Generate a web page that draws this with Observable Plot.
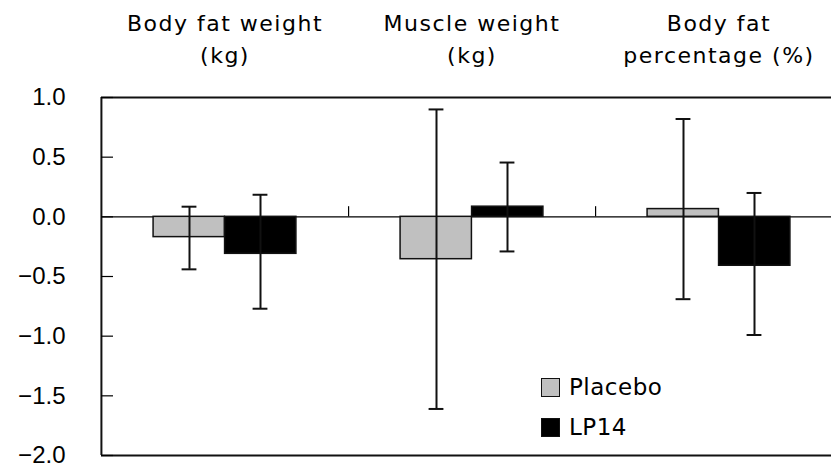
<!DOCTYPE html>
<html>
<head>
<meta charset="utf-8">
<script src="https://cdn.jsdelivr.net/npm/d3@7"></script>
<script src="https://cdn.jsdelivr.net/npm/@observablehq/plot@0.6"></script>
<style>
  body { margin: 0; background: #fff; }
  #wrap { position: relative; width: 831px; height: 472px; overflow: hidden; }
  #legend { position: absolute; left: 541px; top: 377px; font-family: "DejaVu Sans", sans-serif; font-size: 23px; color: #000; }
  .item { display: flex; align-items: center; height: 20px; margin-bottom: 20px; letter-spacing: 0.5px; }
  .sw { width: 19px; height: 19px; box-sizing: border-box; border: 1.5px solid #111; margin-right: 9px; }
  g[aria-label="x-axis tick label"] text { letter-spacing: 1.5px; }
</style>
</head>
<body>
<div id="wrap"><div id="chart"></div><div id="legend"></div></div>
<script>
const categories = ["Body fat weight\n(kg)", "Muscle weight\n(kg)", "Body fat\npercentage (%)"];
const seriesNames = ["Placebo", "LP14"];
const seriesColors = ["#c0c0c0", "#000000"];
const placeboMean = [-0.17, -0.355, 0.065];
const placeboLow  = [-0.44, -1.61, -0.69];
const placeboHigh = [0.085, 0.90, 0.82];
const lp14Mean = [-0.31, 0.085, -0.41];
const lp14Low  = [-0.77, -0.29, -0.99];
const lp14High = [0.185, 0.455, 0.20];
const yTicks = [1.0, 0.5, 0.0, -0.5, -1.0, -1.5, -2.0];

const rows = categories.map((c, i) => ({
  category: c,
  placebo: placeboMean[i], placeboLo: placeboLow[i], placeboHi: placeboHigh[i],
  lp14: lp14Mean[i], lp14Lo: lp14Low[i], lp14Hi: lp14High[i]
}));

const W = 831, H = 472, ML = 101, MR = 0, MT = 97, MB = 17;
const xRange = [ML, 842.5];
const bw = (xRange[1] - xRange[0]) / categories.length;
const half = bw / 2;
const barW = 71.5;
const errOff = 35.5;
const capW = 15;
const yMax = d3.max(yTicks), yMin = d3.min(yTicks);

const chart = Plot.plot({
  width: W, height: H,
  marginTop: MT, marginBottom: MB, marginLeft: ML, marginRight: MR,
  style: { fontFamily: "Liberation Sans, Arial, sans-serif", fontSize: "24px", color: "#000", background: "#fff", overflow: "hidden" },
  x: { type: "band", domain: categories, range: xRange, padding: 0 },
  y: { domain: [yMin, yMax] },
  marks: [
    Plot.ruleY([0], { stroke: "#000", strokeWidth: 1.2 }),
    Plot.ruleX(categories.slice(0, -1), { x: d => d, dx: half, y1: 0, y2: 0.085, stroke: "#000", strokeWidth: 1.2 }),
    Plot.barY(rows, { x: "category", y: "placebo", fill: seriesColors[0], stroke: "#111", strokeWidth: 1.5, insetLeft: half - barW, insetRight: half }),
    Plot.barY(rows, { x: "category", y: "lp14", fill: seriesColors[1], stroke: "#111", strokeWidth: 1.5, insetLeft: half, insetRight: half - barW }),
    Plot.ruleX(rows, { x: "category", y1: "placeboLo", y2: "placeboHi", dx: -errOff, stroke: "#111", strokeWidth: 2 }),
    Plot.ruleX(rows, { x: "category", y1: "lp14Lo", y2: "lp14Hi", dx: errOff, stroke: "#111", strokeWidth: 2 }),
    Plot.tickY(rows, { x: "category", y: "placeboLo", insetLeft: half - errOff - capW / 2, insetRight: half + errOff - capW / 2, stroke: "#111", strokeWidth: 2 }),
    Plot.tickY(rows, { x: "category", y: "placeboHi", insetLeft: half - errOff - capW / 2, insetRight: half + errOff - capW / 2, stroke: "#111", strokeWidth: 2 }),
    Plot.tickY(rows, { x: "category", y: "lp14Lo", insetLeft: half + errOff - capW / 2, insetRight: half - errOff - capW / 2, stroke: "#111", strokeWidth: 2 }),
    Plot.tickY(rows, { x: "category", y: "lp14Hi", insetLeft: half + errOff - capW / 2, insetRight: half - errOff - capW / 2, stroke: "#111", strokeWidth: 2 }),
    Plot.ruleY([yMax, yMin], { stroke: "#111", strokeWidth: 2 }),
    Plot.ruleX(categories.slice(0, 1), { x: d => d, dx: -half, y1: yMin, y2: yMax, stroke: "#111", strokeWidth: 2 }),
    Plot.tickY(yTicks, { y: d => d, insetRight: (W - ML - MR) - 12, stroke: "#000", strokeWidth: 1.2 }),
    Plot.axisY(yTicks, { tickSize: 0, tickPadding: 36, tickFormat: d3.format(".1f"), fontSize: 24, fontFamily: "Liberation Sans, Arial, sans-serif" }),
    Plot.axisX({ anchor: "top", tickSize: 0, tickPadding: 35, fontSize: 22, fontFamily: "DejaVu Sans, sans-serif", lineHeight: 1.45, label: null })
  ]
});
document.getElementById("chart").appendChild(chart);

const legend = document.getElementById("legend");
seriesNames.forEach((name, i) => {
  const item = document.createElement("div");
  item.className = "item";
  const sw = document.createElement("div");
  sw.className = "sw";
  sw.style.background = seriesColors[i];
  const label = document.createElement("span");
  label.textContent = name;
  item.appendChild(sw);
  item.appendChild(label);
  legend.appendChild(item);
});
</script>
</body>
</html>
